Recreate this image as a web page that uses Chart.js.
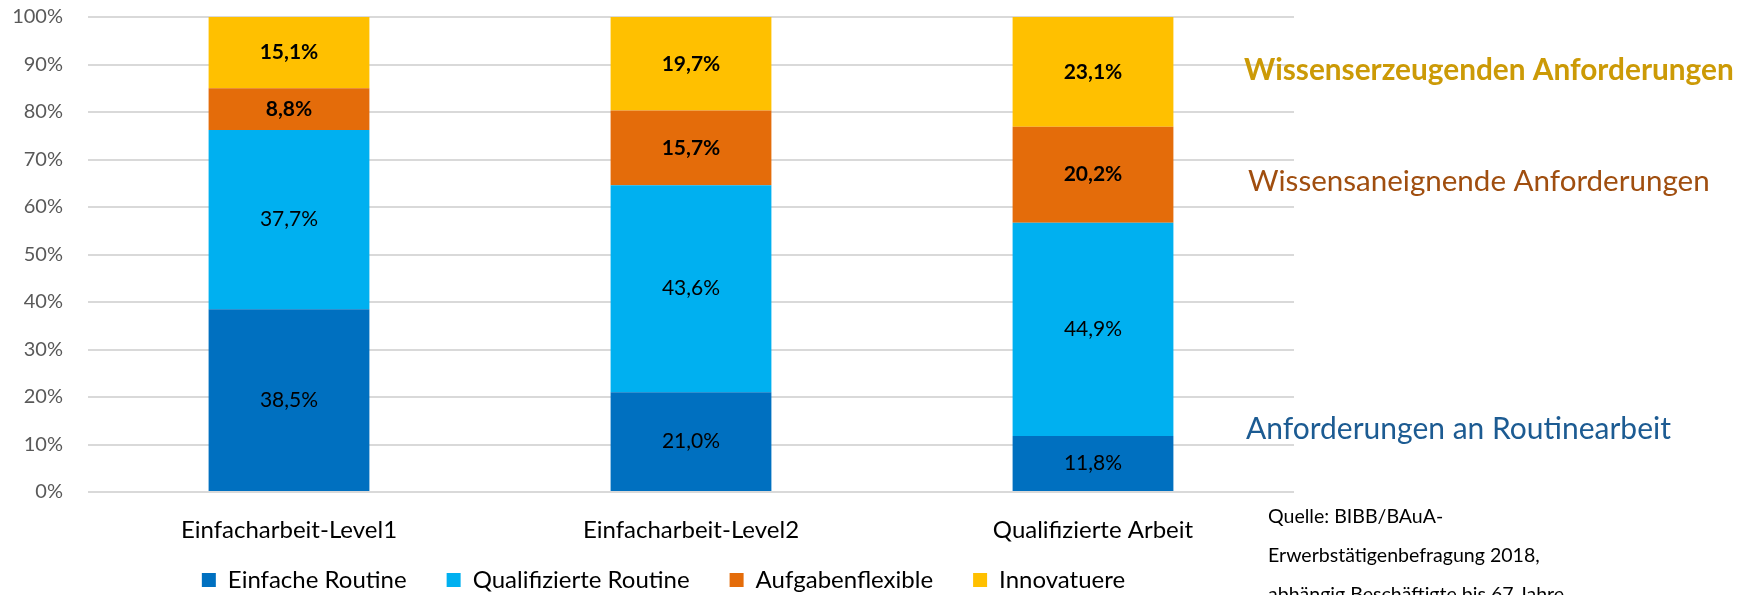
<!DOCTYPE html>
<html lang="de">
<head>
<meta charset="UTF-8">
<title>Anforderungen an Arbeit</title>
<script src="https://cdn.jsdelivr.net/npm/chart.js"></script>
<style>
    body {
        margin: 0;
        background: #fff;
    }
    .chart-box {
        position: relative;
        width: 1744px;
        height: 595px;
    }
</style>
</head>
<body>
<div class="chart-box"><canvas id="chart"></canvas></div>
<script>
const categories = ["Einfacharbeit-Level1", "Einfacharbeit-Level2", "Qualifizierte Arbeit"];
const seriesNames = ["Einfache Routine", "Qualifizierte Routine", "Aufgabenflexible", "Innovatuere"];
const einfacheRoutine = [38.5, 21.0, 11.8];
const qualifizierteRoutine = [37.7, 43.6, 44.9];
const aufgabenflexible = [8.8, 15.7, 20.2];
const innovatuere = [15.1, 19.7, 23.1];
const sideLabels = ["Wissenserzeugenden Anforderungen", "Wissensaneignende Anforderungen", "Anforderungen an Routinearbeit"];
const sourceLines = ["Quelle: BIBB/BAuA-", "Erwerbstätigenbefragung 2018,", "abhängig Beschäftigte bis 67 Jahre"];

const FONT = "Lato, 'Open Sans', sans-serif";

function fmt(v) {
    return v.toFixed(1).replace('.', ',') + '%';
}

// value labels in the middle of each segment
const barLabels = {
    id: 'barLabels',
    afterDatasetsDraw(chart) {
        const ctx = chart.ctx;
        chart.data.datasets.forEach((ds, i) => {
            chart.getDatasetMeta(i).data.forEach((bar, j) => {
                const p = bar.getCenterPoint();
                ctx.save();
                ctx.font = (ds.boldLabel ? 'bold ' : '') + '21px ' + FONT;
                ctx.fillStyle = '#000';
                ctx.textAlign = 'center';
                ctx.textBaseline = 'middle';
                ctx.fillText(fmt(ds.data[j]), p.x, p.y);
                ctx.restore();
            });
        });
    }
};

// font size that makes a text a given width
function fitText(ctx, text, weight, width) {
    ctx.font = weight + ' 30px ' + FONT;
    return 30 * width / ctx.measureText(text).width;
}

// annotations right of the plot
const sideText = {
    id: 'sideText',
    afterDraw(chart) {
        const ctx = chart.ctx;
        ctx.save();
        ctx.textBaseline = 'middle';
        ctx.textAlign = 'left';
        const items = [
            { text: sideLabels[0], weight: 'bold', color: '#CC9A06', x: 1244, y: 70, w: 490 },
            { text: sideLabels[1], weight: 'normal', color: '#A04E0F', x: 1248, y: 181, w: 462 },
            { text: sideLabels[2], weight: 'normal', color: '#1C5B92', x: 1246, y: 429, w: 425 }
        ];
        items.forEach(it => {
            const size = fitText(ctx, it.text, it.weight, it.w);
            ctx.font = it.weight + ' ' + size + 'px ' + FONT;
            ctx.fillStyle = it.color;
            ctx.fillText(it.text, it.x, it.y);
        });
        const srcSize = fitText(ctx, sourceLines[1], 'normal', 272);
        ctx.font = 'normal ' + srcSize + 'px ' + FONT;
        ctx.fillStyle = '#000';
        sourceLines.forEach((line, i) => {
            ctx.fillText(line, 1268, 517 + i * 39);
        });
        ctx.restore();
    }
};

// legend padding doubles as item gap, so place the box by hand
// (the legend clips to its own box, so keep the bottom at the canvas edge)
const legendShift = {
    id: 'legendShift',
    afterLayout(chart) {
        const lg = chart.legend;
        lg.top = 528;
        lg.bottom = chart.height;
        lg.left += 10;
        lg.right += 10;
    }
};

new Chart(document.getElementById('chart'), {
    type: 'bar',
    data: {
        labels: categories,
        datasets: [
            { label: seriesNames[0], data: einfacheRoutine, backgroundColor: '#0070C0' },
            { label: seriesNames[1], data: qualifizierteRoutine, backgroundColor: '#00B0F0' },
            { label: seriesNames[2], data: aufgabenflexible, backgroundColor: '#E46C0A', boldLabel: true },
            { label: seriesNames[3], data: innovatuere, backgroundColor: '#FFC000', boldLabel: true }
        ]
    },
    options: {
        responsive: true,
        maintainAspectRatio: false,
        animation: false,
        datasets: {
            bar: { categoryPercentage: 1, barPercentage: 0.4 }
        },
        layout: {
            padding: { left: 13, right: 450, top: 17, bottom: 0 }
        },
        scales: {
            x: {
                stacked: true,
                grid: { display: false, drawTicks: false },
                border: { display: false },
                ticks: { color: '#000', padding: 24, font: { family: FONT, size: 24 } },
                afterFit(scale) {
                    scale.height = 55;
                    scale.paddingLeft = 0;
                    scale.paddingRight = 0;
                }
            },
            y: {
                stacked: true,
                min: 0,
                max: 100,
                grid: { color: '#D9D9D9', lineWidth: 2, drawTicks: false },
                border: { display: false },
                ticks: {
                    stepSize: 10,
                    color: '#595959',
                    padding: 25,
                    font: { family: FONT, size: 20 },
                    callback: v => v + '%'
                },
                afterFit(scale) {
                    scale.width = 75;
                    scale.paddingTop = 0;
                    scale.paddingBottom = 0;
                }
            }
        },
        plugins: {
            legend: {
                position: 'bottom',
                maxHeight: 48,
                labels: {
                    color: '#000',
                    boxWidth: 14,
                    boxHeight: 14,
                    padding: 40,
                    font: { family: FONT, size: 24 }
                }
            },
            tooltip: { enabled: false }
        }
    },
    plugins: [barLabels, sideText, legendShift]
});
</script>
</body>
</html>
